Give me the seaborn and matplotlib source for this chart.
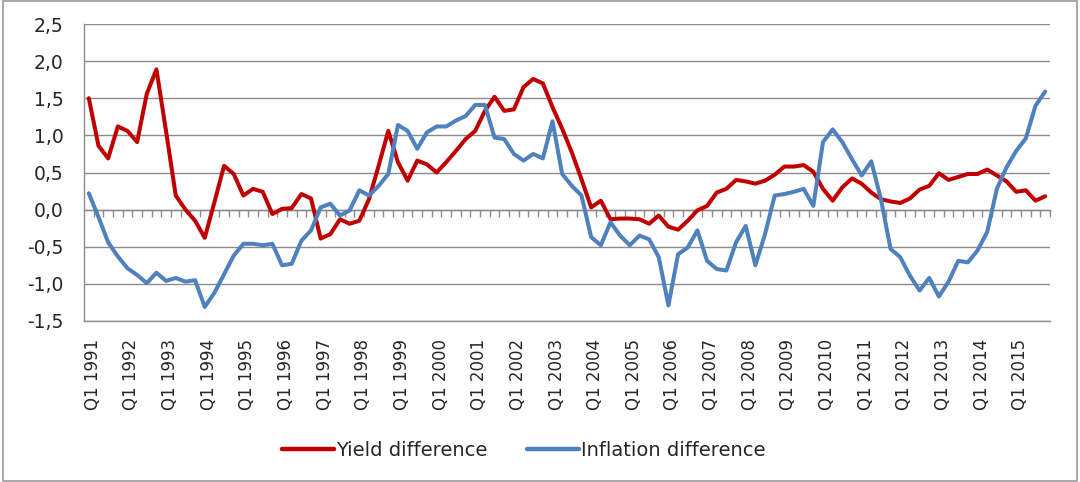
import seaborn as sns
import matplotlib.pyplot as plt
import matplotlib.transforms as mtransforms
import pandas as pd
from matplotlib.ticker import FuncFormatter
from matplotlib.patches import Rectangle

# Quarterly data, Q1 1991 - Q4 2015
years = list(range(1991, 2016))
quarters = [f"Q{q} {y}" for y in years for q in range(1, 5)]

yield_diff = [
    1.50, 0.86, 0.69, 1.12, 1.06, 0.91, 1.56, 1.89, 1.05, 0.19,
    0.00, -0.15, -0.38, 0.10, 0.59, 0.48, 0.19, 0.28, 0.24, -0.06,
    0.01, 0.02, 0.21, 0.15, -0.39, -0.33, -0.13, -0.19, -0.15, 0.14,
    0.59, 1.06, 0.64, 0.39, 0.66, 0.61, 0.50, 0.64, 0.79, 0.95,
    1.06, 1.33, 1.52, 1.33, 1.35, 1.65, 1.76, 1.70, 1.38, 1.09,
    0.77, 0.41, 0.03, 0.12, -0.13, -0.12, -0.12, -0.13, -0.19, -0.08,
    -0.23, -0.27, -0.15, -0.01, 0.05, 0.23, 0.28, 0.40, 0.38, 0.35,
    0.39, 0.47, 0.58, 0.58, 0.60, 0.51, 0.28, 0.12, 0.30, 0.42,
    0.35, 0.23, 0.14, 0.11, 0.09, 0.15, 0.27, 0.32, 0.49, 0.40,
    0.44, 0.48, 0.48, 0.54, 0.46, 0.38, 0.24, 0.26, 0.12, 0.18,
]

inflation_diff = [
    0.22, -0.10, -0.44, -0.63, -0.79, -0.88, -0.99, -0.85, -0.96, -0.92,
    -0.97, -0.95, -1.31, -1.12, -0.87, -0.62, -0.46, -0.46, -0.48, -0.46,
    -0.75, -0.73, -0.42, -0.28, 0.03, 0.08, -0.08, -0.01, 0.26, 0.19,
    0.32, 0.48, 1.14, 1.06, 0.82, 1.04, 1.12, 1.12, 1.20, 1.26,
    1.41, 1.41, 0.97, 0.95, 0.75, 0.66, 0.75, 0.69, 1.19, 0.48,
    0.32, 0.19, -0.37, -0.48, -0.17, -0.35, -0.48, -0.35, -0.40, -0.64,
    -1.29, -0.60, -0.51, -0.28, -0.69, -0.80, -0.82, -0.44, -0.22, -0.75,
    -0.33, 0.19, 0.21, 0.24, 0.28, 0.05, 0.91, 1.08, 0.91, 0.68,
    0.46, 0.65, 0.14, -0.53, -0.64, -0.89, -1.09, -0.92, -1.17, -0.97,
    -0.69, -0.71, -0.55, -0.30, 0.28, 0.57, 0.79, 0.96, 1.40, 1.59,
]

series_names = ["Yield difference", "Inflation difference"]
colors = ["#C00000", "#4F81BD"]

n = len(quarters)
df = pd.DataFrame({
    "idx": list(range(n)) * 2,
    "value": yield_diff + inflation_diff,
    "series": [series_names[0]] * n + [series_names[1]] * n,
})

sns.set_style("white")
plt.rcParams["font.family"] = ["DejaVu Sans"]

fig = plt.figure(figsize=(10.8, 4.82), dpi=100)
ax = fig.add_axes([84 / 1080, 1 - 321 / 482, (1050 - 84) / 1080, (321 - 24) / 482])

sns.lineplot(data=df, x="idx", y="value", hue="series", palette=colors,
             hue_order=series_names, linewidth=2.9, ax=ax, legend=False)

grid_c = "#8C8C8C"
text_c = "#262626"

ax.set_xlim(-0.5, n - 0.5)
ax.set_ylim(-1.5, 2.5)
ax.set_yticks([-1.5 + 0.5 * k for k in range(9)])
ax.yaxis.set_major_formatter(FuncFormatter(lambda v, p: f"{v:.1f}".replace(".", ",")))
ax.yaxis.grid(True, color=grid_c, linewidth=1.0)
ax.set_axisbelow(True)

ax.set_xticks(range(0, n, 4))
ax.set_xticklabels(quarters[::4], rotation=90)
ax.tick_params(axis="x", length=0, pad=13, labelsize=12, labelcolor=text_c)
ax.tick_params(axis="y", length=5.5, width=1.0, color=grid_c, pad=9,
               labelsize=13.5, labelcolor=text_c)
shift = mtransforms.ScaledTranslation(4 / 100, 0, fig.dpi_scale_trans)
for lbl in ax.get_xticklabels():
    lbl.set_transform(lbl.get_transform() + shift)
ax.set_xlabel("")
ax.set_ylabel("")

for s in ["top", "right"]:
    ax.spines[s].set_visible(False)
for s in ["left", "bottom"]:
    ax.spines[s].set_color(grid_c)
    ax.spines[s].set_linewidth(1.0)

# horizontal axis crossing at zero with tick marks between categories
zero_frac = (0 - (-1.5)) / 4.0
sec = ax.secondary_xaxis(zero_frac)
sec.set_xticks([i - 0.5 for i in range(1, n + 1)])
sec.set_xticklabels([])
sec.tick_params(axis="x", length=5, width=1.0, color=grid_c, direction="out")
sec.spines["bottom"].set_color(grid_c)
sec.spines["bottom"].set_linewidth(1.0)

handles = [plt.Line2D([], [], color=c, linewidth=3.2) for c in colors]
fig.legend(handles, series_names, loc="center", bbox_to_anchor=(0.485, 1 - 450 / 482),
           ncol=2, frameon=False, fontsize=14, handlelength=2.7, handletextpad=0.1,
           columnspacing=2.0, labelcolor=text_c)

fig.patches.append(Rectangle((0.003, 0.003), 0.994, 0.994, transform=fig.transFigure,
                             fill=False, edgecolor="#9A9A9A", linewidth=1.2))

fig.savefig("out.png", dpi=100, facecolor="white")
